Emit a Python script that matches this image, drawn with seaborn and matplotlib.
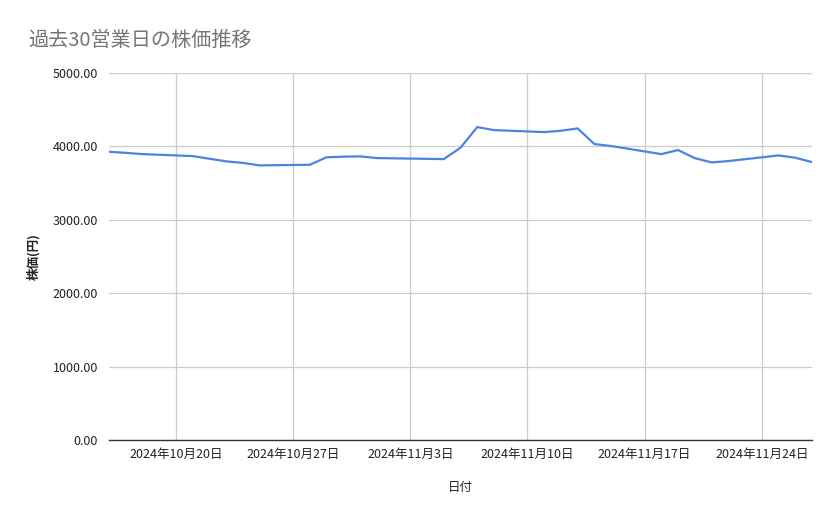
import pandas as pd
import matplotlib.pyplot as plt
import matplotlib.dates as mdates
import seaborn as sns

# 過去30営業日の終値
dates = ['2024-10-16', '2024-10-17', '2024-10-18', '2024-10-21', '2024-10-22',
         '2024-10-23', '2024-10-24', '2024-10-25', '2024-10-28', '2024-10-29',
         '2024-10-30', '2024-10-31', '2024-11-01', '2024-11-05', '2024-11-06',
         '2024-11-07', '2024-11-08', '2024-11-11', '2024-11-12', '2024-11-13',
         '2024-11-14', '2024-11-15', '2024-11-18', '2024-11-19', '2024-11-20',
         '2024-11-21', '2024-11-22', '2024-11-25', '2024-11-26', '2024-11-27']
prices = [3927, 3912, 3895, 3868, 3832,
          3796, 3775, 3741, 3750, 3852,
          3860, 3864, 3841, 3827, 3982,
          4263, 4222, 4195, 4213, 4245,
          4032, 4005, 3895, 3950, 3840,
          3782, 3800, 3877, 3846, 3786]
tick_dates = ['2024-10-20', '2024-10-27', '2024-11-03', '2024-11-10',
              '2024-11-17', '2024-11-24']

df = pd.DataFrame({'日付': pd.to_datetime(dates), '株価(円)': prices})

sns.set_style('white')
plt.rcParams['font.family'] = ['Noto Sans CJK JP', 'DejaVu Sans']

fig = plt.figure(figsize=(8.39, 5.19), dpi=100)
ax = fig.add_axes([109 / 839, 1 - 440 / 519, 703 / 839, 367 / 519])

sns.lineplot(data=df, x='日付', y='株価(円)', color='#4a86e0', linewidth=1.6, ax=ax)

ax.set_xlim(pd.Timestamp('2024-10-16'), pd.Timestamp('2024-11-27'))
ax.set_ylim(0, 5000)
ax.set_yticks([0, 1000, 2000, 3000, 4000, 5000])
ax.yaxis.set_major_formatter(plt.FuncFormatter(lambda v, p: f'{v:.2f}'))
ax.set_xticks(pd.to_datetime(tick_dates))
ax.xaxis.set_major_formatter(plt.FuncFormatter(
    lambda v, p: '{0.year}年{0.month}月{0.day}日'.format(mdates.num2date(v))))

ax.grid(True, color='#cccccc', linewidth=0.9)
ax.set_axisbelow(True)
for s in ['top', 'right', 'left']:
    ax.spines[s].set_visible(False)
ax.spines['bottom'].set_color('#333333')
ax.spines['bottom'].set_linewidth(1.0)
ax.tick_params(length=0, labelsize=9, colors='#222222', pad=6)
ax.tick_params(axis='y', pad=8)

ax.set_xlabel('日付', fontsize=9, color='#222222', labelpad=14)
ax.set_ylabel('株価(円)', fontsize=9, color='#222222', labelpad=9, fontweight='bold')

fig.text(28 / 839, 1 - 40 / 519, '過去30営業日の株価推移', fontsize=14.5, color='#757575',
         va='center', ha='left')

plt.savefig('out.png', dpi=100)
